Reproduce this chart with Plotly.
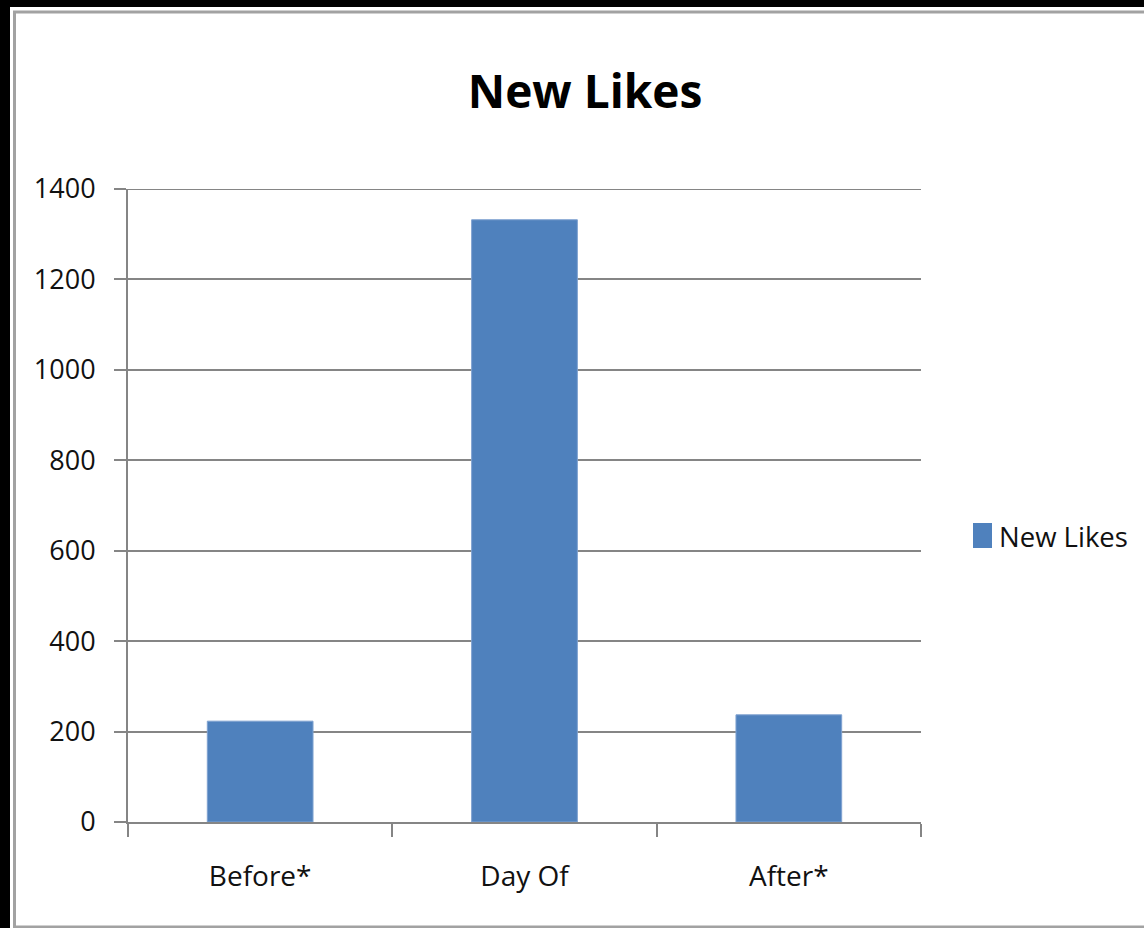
import plotly.graph_objects as go

# Data
categories = ["Before*", "Day Of", "After*"]
new_likes = [223, 1332, 237]
y_ticks = [0, 200, 400, 600, 800, 1000, 1200, 1400]
series_name = "New Likes"

W, H = 1144, 928
L, R, T, B = 128, 921, 189, 822  # plot area in pixels


def px_x(px):
    return (px - L) / (R - L)


def px_y(py):
    return (B - py) / (B - T)


FONT = "Open Sans, sans-serif"
GRID = "#858585"
BAR = "#4f81bd"

fig = go.Figure(
    go.Bar(
        x=categories,
        y=new_likes,
        name=series_name,
        marker=dict(color=BAR, line=dict(color="#7fa2d0", width=1)),
        showlegend=False,
    )
)

shapes = [
    # white chart frame on the black page
    dict(type="rect", xref="paper", yref="paper", layer="below",
         x0=px_x(10), x1=px_x(1170), y0=px_y(7), y1=px_y(940),
         fillcolor="white", line=dict(width=0)),
    dict(type="rect", xref="paper", yref="paper", layer="below",
         x0=px_x(14.5), x1=px_x(1170), y0=px_y(12), y1=px_y(927),
         fillcolor="rgba(0,0,0,0)", line=dict(color="#a2a2a2", width=3)),
    # top gridline at the axis maximum (plotly skips it at the edge)
    dict(type="line", xref="paper", yref="y", layer="below",
         x0=0, x1=1, y0=y_ticks[-1], y1=y_ticks[-1],
         line=dict(color=GRID, width=2)),
    # legend swatch
    dict(type="rect", xref="paper", yref="paper",
         x0=px_x(973), x1=px_x(992), y0=px_y(523), y1=px_y(548),
         fillcolor=BAR, line=dict(width=0)),
]

annotations = [
    dict(text=series_name, xref="paper", yref="paper",
         x=px_x(997), y=px_y(536), xanchor="left", yanchor="middle",
         showarrow=False, font=dict(family=FONT, size=27.5, color="#111")),
]

fig.update_layout(
    width=W, height=H,
    margin=dict(l=L, r=W - R, t=T, b=H - B, pad=0),
    paper_bgcolor="black",
    plot_bgcolor="rgba(0,0,0,0)",
    bargap=0.6,
    title=dict(text="<b>New Likes</b>", x=585 / W, xanchor="center",
               y=1 - 92 / H, yanchor="middle", xref="container", yref="container",
               font=dict(family=FONT, size=46, color="black")),
    shapes=shapes,
    annotations=annotations,
    xaxis=dict(
        showline=True, linecolor=GRID, linewidth=2,
        ticks="outside", tickson="boundaries", ticklen=13, tickcolor=GRID, tickwidth=2,
        tickfont=dict(family=FONT, size=28, color="#111"),
        ticklabelstandoff=28,
        showgrid=False,
    ),
    yaxis=dict(
        range=[0, 1400], tickvals=y_ticks,
        showline=True, linecolor=GRID, linewidth=2,
        ticks="outside", ticklen=12, tickcolor=GRID, tickwidth=2,
        tickfont=dict(family=FONT, size=27, color="#111"),
        ticklabelstandoff=13,
        showgrid=True, gridcolor=GRID, gridwidth=2,
        zeroline=False,
    ),
)

fig.write_html("out.html")
